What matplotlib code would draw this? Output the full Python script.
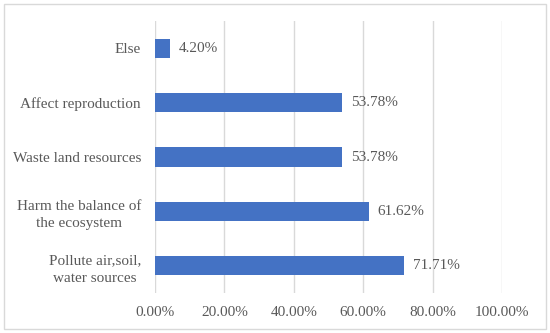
import matplotlib.pyplot as plt
from matplotlib.patches import Rectangle
from matplotlib.ticker import FuncFormatter

categories = ["Pollute air,soil,\nwater sources", "Harm the balance of\nthe ecosystem",
              "Waste land resources", "Affect reproduction", "Else"]
values = [71.71, 61.62, 53.78, 53.78, 4.20]
xticks = [0, 20, 40, 60, 80, 100]

plt.rcParams['font.family'] = ['Liberation Serif', 'DejaVu Serif']
text_color = '#595959'

fig = plt.figure(figsize=(5.5, 3.33), dpi=100)
ax = fig.add_axes([0.2818, 0.12, 0.6309, 0.817])

bars = ax.barh(range(len(values)), values, height=0.355, color='#4472C4', zorder=3)
for i, v in enumerate(values):
    ax.annotate(f"{v:.2f}%", (v, i), xytext=(6.5, 0), textcoords='offset points',
                va='center', ha='left', fontsize=11, color=text_color)

ax.set_xlim(0, 100)
ax.set_ylim(-0.5, len(values) - 0.5)
ax.set_xticks(xticks)
ax.xaxis.set_major_formatter(FuncFormatter(lambda x, p: f"{x:.2f}%"))
ax.set_yticks(range(len(values)))
ax.set_yticklabels(categories, linespacing=1.45)
ax.tick_params(length=0, labelsize=11, labelcolor=text_color)
ax.tick_params(axis='x', pad=9)
ax.tick_params(axis='y', pad=10)
for lab in ax.get_yticklabels():
    lab.set_horizontalalignment('right')
    lab.set_multialignment('center')
ax.grid(axis='x', color='#D9D9D9', linewidth=1, zorder=0)
for s in ax.spines.values():
    s.set_visible(False)

fig.patches.append(Rectangle((0.007, 0.012), 0.985, 0.976, transform=fig.transFigure,
                             fill=False, edgecolor='#D9D9D9', linewidth=1))

fig.savefig('out.png', dpi=100)
